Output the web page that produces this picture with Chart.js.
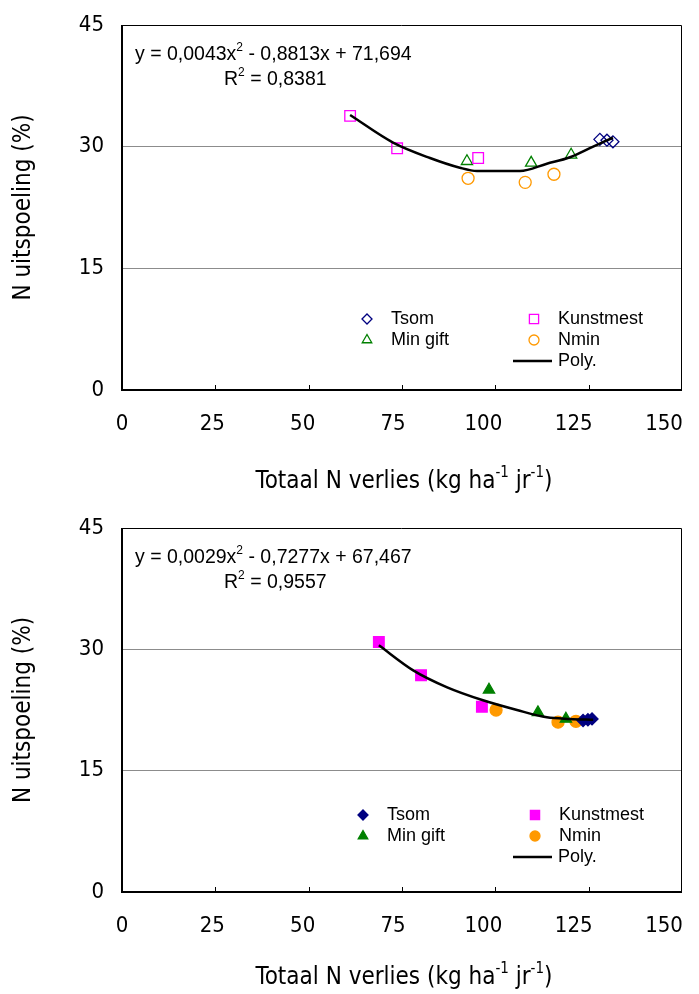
<!DOCTYPE html>
<html lang="nl">
<head>
<meta charset="UTF-8">
<title>N uitspoeling</title>
<script src="https://cdn.jsdelivr.net/npm/chart.js"></script>
<style>
    body { margin: 0; background: #fff; }
    canvas { display: block; }
</style>
</head>
<body>
<canvas id="grafiekBoven" width="699" height="497"></canvas>
<canvas id="grafiekOnder" width="699" height="497"></canvas>
<script>
// --- gegevens bovenste grafiek (open symbolen) ---
const bovenTsomX = [128.0, 129.9, 131.5];
const bovenTsomY = [30.9, 30.8, 30.6];
const bovenKunstX = [61.1, 73.7, 95.4];
const bovenKunstY = [33.8, 29.8, 28.6];
const bovenMinX = [92.4, 109.6, 120.3];
const bovenMinY = [28.2, 28.0, 29.0];
const bovenNminX = [92.7, 108.0, 115.7];
const bovenNminY = [26.1, 25.6, 26.6];
const bovenPolyX = [61.1, 72.6, 82.5, 90.5, 95.1, 106.6, 113.8, 120.0, 126.2, 131.5];
const bovenPolyY = [33.9, 30.5, 28.6, 27.4, 27.0, 27.0, 27.9, 28.7, 30.0, 31.1];
const bovenVergelijking = ['y = 0,0043x', '2', ' - 0,8813x + 71,694'];
const bovenR2 = ['R', '2', ' = 0,8381'];

// --- gegevens onderste grafiek (gevulde symbolen) ---
const onderTsomX = [123.5, 124.8, 125.9];
const onderTsomY = [21.2, 21.3, 21.4];
const onderKunstX = [68.8, 80.1, 96.4];
const onderKunstY = [30.9, 26.8, 22.9];
const onderMinX = [98.3, 111.4, 118.9];
const onderMinY = [25.0, 22.2, 21.4];
const onderNminX = [100.2, 116.8, 121.6];
const onderNminY = [22.5, 21.0, 21.1];
const onderPolyX = [68.8, 78.0, 87.1, 96.7, 105.8, 113.8, 120.0, 126.2];
const onderPolyY = [30.5, 27.4, 25.3, 23.7, 22.5, 21.6, 21.4, 21.3];
const onderVergelijking = ['y = 0,0029x', '2', ' - 0,7277x + 67,467'];
const onderR2 = ['R', '2', ' = 0,9557'];

const xTicks = [0, 25, 50, 75, 100, 125, 150];
const yTicks = [0, 15, 30, 45];

const kleuren = { Tsom: '#000080', Kunstmest: '#FF00FF', 'Min gift': '#008000', Nmin: '#FF9900' };
const vormen = { Tsom: 'rectRot', Kunstmest: 'rect', 'Min gift': 'triangle', Nmin: 'circle' };
const straal = { Tsom: 6, Kunstmest: 7.5, 'Min gift': 6.5, Nmin: 6 };

const fontSmal = "'Liberation Sans Narrow', 'Arial Narrow', 'DejaVu Sans Condensed', sans-serif";
const fontNormaal = "'Liberation Sans', Arial, sans-serif";

function punten(xs, ys) {
    return xs.map((x, i) => ({ x: x, y: ys[i] }));
}

function tekstMetSup(ctx, delen, x, y, grootte, font) {
    // delen: [gewoon, superscript, gewoon, ...]
    let pos = x;
    delen.forEach((d, i) => {
        const isSup = i % 2 === 1;
        ctx.font = (isSup ? Math.round(grootte * 0.62) : grootte) + 'px ' + (font || fontNormaal);
        ctx.fillText(d, pos, isSup ? y - grootte * 0.38 : y);
        pos += ctx.measureText(d).width;
    });
}

function breedte(ctx, delen, grootte, font) {
    let w = 0;
    delen.forEach((d, i) => {
        ctx.font = (i % 2 === 1 ? Math.round(grootte * 0.62) : grootte) + 'px ' + font;
        w += ctx.measureText(d).width;
    });
    return w;
}

function maakGrafiek(id, cfg) {
    const datasets = [];
    const series = [
        ['Tsom', cfg.tsom], ['Kunstmest', cfg.kunst], ['Min gift', cfg.min], ['Nmin', cfg.nmin]
    ];
    series.forEach(([naam, data]) => {
        datasets.push({
            label: naam,
            data: data,
            showLine: false,
            pointStyle: vormen[naam],
            pointRadius: straal[naam],
            pointHoverRadius: straal[naam],
            pointBorderColor: kleuren[naam],
            pointBackgroundColor: cfg.gevuld ? kleuren[naam] : 'rgba(0,0,0,0)',
            pointBorderWidth: 1.3,
            order: 1
        });
    });
    datasets.push({
        label: 'Poly.',
        data: cfg.poly,
        showLine: true,
        borderColor: '#000',
        borderWidth: 2.5,
        pointRadius: 0,
        cubicInterpolationMode: 'monotone',
        order: 0
    });

    const extra = {
        id: 'extra',
        afterDraw(chart) {
            const ctx = chart.ctx;
            const a = chart.chartArea;
            const xs = chart.scales.x;
            ctx.save();
            // kader
            ctx.strokeStyle = '#000';
            ctx.lineWidth = 1;
            ctx.beginPath();
            ctx.moveTo(a.left, a.top + 0.5);
            ctx.lineTo(a.right - 0.5, a.top + 0.5);
            ctx.lineTo(a.right - 0.5, a.bottom);
            ctx.stroke();
            ctx.lineWidth = 2;
            ctx.beginPath();
            ctx.moveTo(a.left, a.top);
            ctx.lineTo(a.left, a.bottom);
            ctx.lineTo(a.right, a.bottom);
            ctx.stroke();
            // tick streepjes naar binnen
            ctx.lineWidth = 1;
            xTicks.slice(1, -1).forEach(v => {
                const px = Math.round(xs.getPixelForValue(v)) + 0.5;
                ctx.beginPath();
                ctx.moveTo(px, a.bottom);
                ctx.lineTo(px, a.bottom - 5);
                ctx.stroke();
            });

            // x-tick labels (in het origineel iets naar links verschoven)
            ctx.fillStyle = '#000';
            ctx.textAlign = 'center';
            ctx.textBaseline = 'middle';
            ctx.font = '22px ' + fontSmal;
            xTicks.forEach(v => {
                const px = xs.getPixelForValue(v);
                ctx.fillText(String(v), a.left + (px - a.left) * 0.968, a.bottom + 34);
            });

            // vergelijking
            ctx.textAlign = 'left';
            tekstMetSup(ctx, cfg.vergelijking, 135, cfg.eqY, 19.5);
            tekstMetSup(ctx, cfg.r2, 224, cfg.eqY + 25, 19.5);

            // legenda
            const lg = cfg.legenda;
            const items = [
                ['Tsom', lg.x1, lg.y], ['Kunstmest', lg.x2, lg.y],
                ['Min gift', lg.x1, lg.y + 21], ['Nmin', lg.x2, lg.y + 21]
            ];
            items.forEach(([naam, mx, my]) => {
                ctx.strokeStyle = kleuren[naam];
                ctx.fillStyle = cfg.gevuld ? kleuren[naam] : 'rgba(0,0,0,0)';
                ctx.lineWidth = 1.3;
                Chart.helpers.drawPoint(ctx, { pointStyle: vormen[naam], radius: straal[naam] - 1, borderWidth: 1.3 }, mx, my);
                ctx.fillStyle = '#000';
                ctx.font = '18px ' + fontNormaal;
                ctx.fillText(naam, mx + 24, my);
            });
            ctx.strokeStyle = '#000';
            ctx.lineWidth = 2.5;
            ctx.beginPath();
            ctx.moveTo(513, lg.y + 42);
            ctx.lineTo(552, lg.y + 42);
            ctx.stroke();
            ctx.fillStyle = '#000';
            ctx.font = '18px ' + fontNormaal;
            ctx.fillText('Poly.', 558, lg.y + 42);

            // y-as titel
            ctx.save();
            ctx.translate(24, (a.top + a.bottom) / 2);
            ctx.rotate(-Math.PI / 2);
            ctx.textAlign = 'center';
            ctx.font = '24px ' + fontSmal;
            ctx.fillText('N uitspoeling (%)', 0, 0);
            ctx.restore();

            // x-as titel met superscripts
            const delen = ['Totaal N verlies (kg ha', '-1', ' jr', '-1', ')'];
            const w = breedte(ctx, delen, 24, fontSmal);
            ctx.textAlign = 'left';
            tekstMetSup(ctx, delen, 404 - w / 2, cfg.titelY, 24, fontSmal);
            ctx.restore();
        }
    };

    return new Chart(document.getElementById(id), {
        type: 'scatter',
        data: { datasets: datasets },
        options: {
            responsive: false,
            animation: false,
            layout: { padding: { top: cfg.top, right: 17, left: 0, bottom: 0 } },
            plugins: { legend: { display: false }, tooltip: { enabled: false } },
            scales: {
                x: {
                    type: 'linear',
                    min: 0, max: 150,
                    afterBuildTicks: s => { s.ticks = xTicks.map(v => ({ value: v })); },
                    grid: { display: false, drawTicks: false },
                    border: { display: false },
                    ticks: { display: false },
                    afterFit: s => {
                        s.height = 497 - cfg.top - cfg.hoogte;
                        s.paddingLeft = 0;
                        s.paddingRight = 0;
                    }
                },
                y: {
                    min: 0, max: 45,
                    afterBuildTicks: s => { s.ticks = yTicks.map(v => ({ value: v })); },
                    grid: {
                        drawTicks: false,
                        color: c => (c.tick.value === 15 || c.tick.value === 30) ? '#8c8c8c' : 'rgba(0,0,0,0)',
                        lineWidth: 1
                    },
                    border: { display: false },
                    ticks: { color: '#000', font: { family: fontSmal, size: 22 }, padding: 18 },
                    afterFit: s => {
                        s.width = 122;
                        s.paddingTop = 0;
                        s.paddingBottom = 0;
                    }
                }
            }
        },
        plugins: [extra]
    });
}

maakGrafiek('grafiekBoven', {
    tsom: punten(bovenTsomX, bovenTsomY),
    kunst: punten(bovenKunstX, bovenKunstY),
    min: punten(bovenMinX, bovenMinY),
    nmin: punten(bovenNminX, bovenNminY),
    poly: punten(bovenPolyX, bovenPolyY),
    vergelijking: bovenVergelijking,
    r2: bovenR2,
    gevuld: false,
    top: 25,
    hoogte: 365,
    eqY: 55,
    titelY: 482,
    legenda: { x1: 367, x2: 534, y: 319 }
});

maakGrafiek('grafiekOnder', {
    tsom: punten(onderTsomX, onderTsomY),
    kunst: punten(onderKunstX, onderKunstY),
    min: punten(onderMinX, onderMinY),
    nmin: punten(onderNminX, onderNminY),
    poly: punten(onderPolyX, onderPolyY),
    vergelijking: onderVergelijking,
    r2: onderR2,
    gevuld: true,
    top: 31,
    hoogte: 364,
    eqY: 61,
    titelY: 481,
    legenda: { x1: 363, x2: 535, y: 318 }
});
</script>
</body>
</html>
